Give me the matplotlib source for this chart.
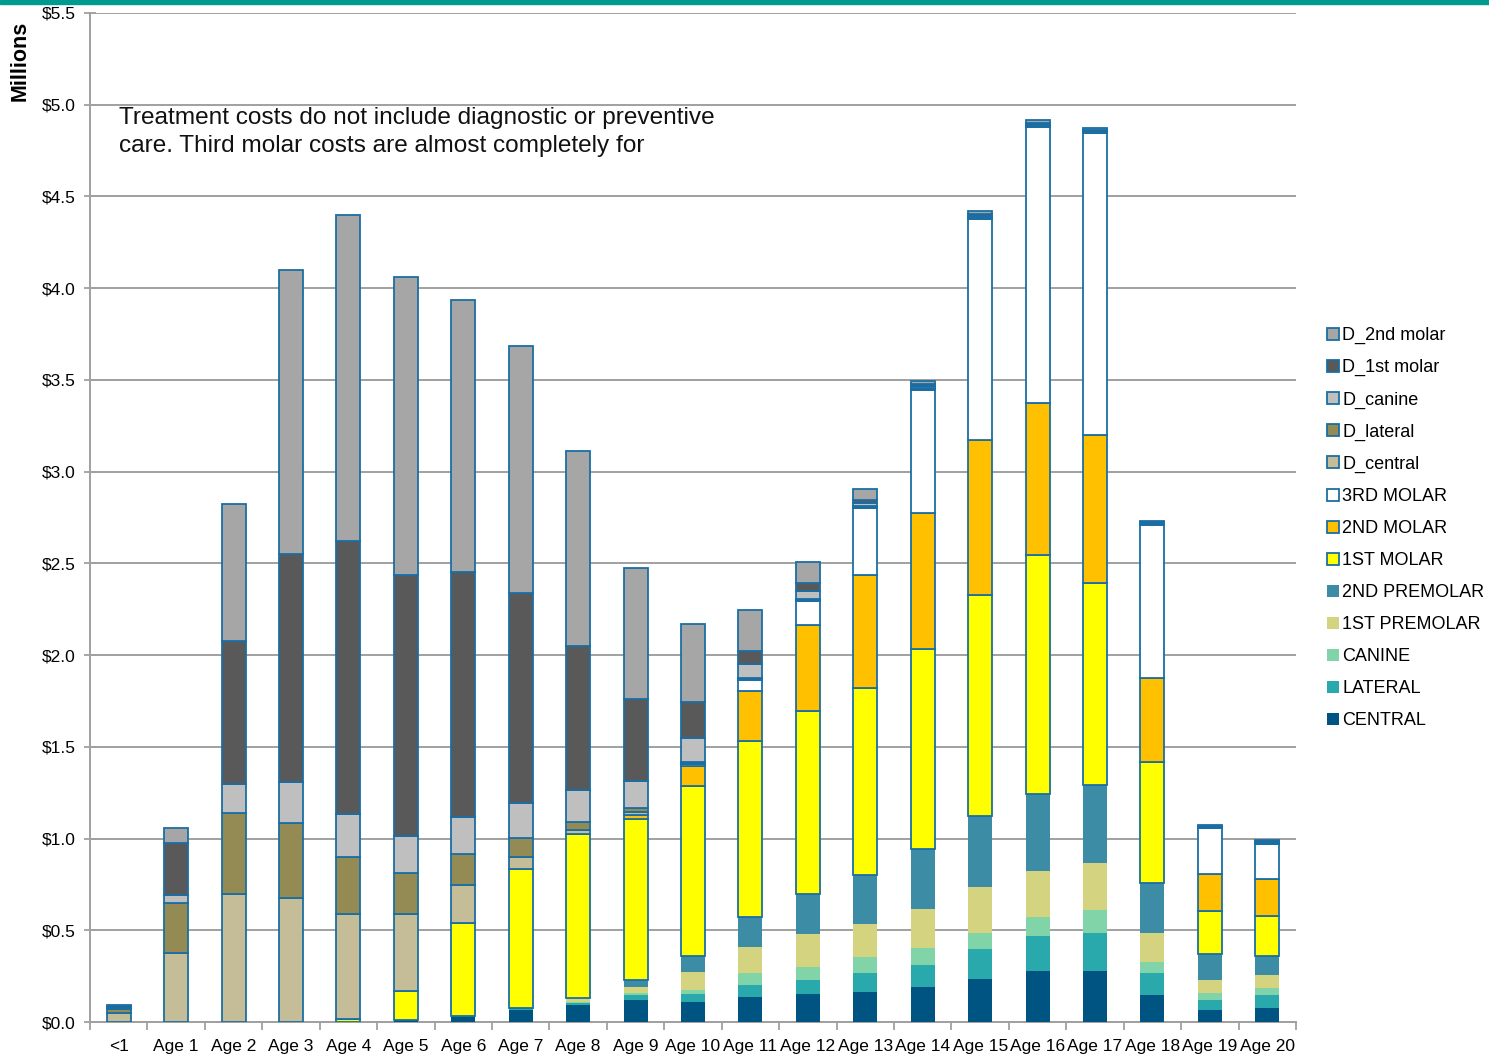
import numpy as np
import matplotlib
matplotlib.use('Agg')
import matplotlib.pyplot as plt
from matplotlib.ticker import FuncFormatter, FixedLocator
from matplotlib.patches import Rectangle, Patch

# Treatment costs by age, stacked by tooth type (millions of dollars)
ages = ['<1'] + ['Age %d' % i for i in range(1, 21)]

central     = [0, 0, 0, 0, 0, 0.01, 0.025, 0.065, 0.095, 0.12, 0.11, 0.138, 0.15, 0.165, 0.19, 0.234, 0.28, 0.28, 0.149, 0.065, 0.078]
lateral     = [0, 0, 0, 0, 0, 0, 0.005, 0.013, 0.01, 0.027, 0.04, 0.064, 0.078, 0.10, 0.123, 0.164, 0.189, 0.207, 0.116, 0.055, 0.069]
canine      = [0, 0, 0, 0, 0, 0, 0, 0, 0.005, 0.01, 0.027, 0.063, 0.071, 0.088, 0.09, 0.089, 0.105, 0.123, 0.062, 0.036, 0.037]
premolar_1  = [0, 0, 0, 0, 0, 0, 0, 0, 0.02, 0.036, 0.096, 0.145, 0.18, 0.181, 0.215, 0.247, 0.251, 0.258, 0.16, 0.073, 0.072]
premolar_2  = [0, 0, 0, 0, 0, 0, 0, 0, 0, 0.035, 0.085, 0.164, 0.218, 0.266, 0.327, 0.391, 0.42, 0.424, 0.273, 0.142, 0.104]
molar_1     = [0, 0, 0, 0, 0.015, 0.16, 0.51, 0.755, 0.894, 0.88, 0.93, 0.958, 1.0, 1.02, 1.09, 1.203, 1.30, 1.10, 0.656, 0.236, 0.219]
molar_2     = [0, 0, 0, 0, 0, 0, 0, 0, 0, 0.02, 0.105, 0.272, 0.465, 0.615, 0.74, 0.845, 0.828, 0.807, 0.461, 0.20, 0.199]
molar_3     = [0, 0, 0, 0, 0, 0, 0, 0, 0, 0, 0.013, 0.06, 0.135, 0.365, 0.67, 1.204, 1.505, 1.646, 0.832, 0.249, 0.191]
d_central   = [0.05, 0.374, 0.70, 0.676, 0.574, 0.42, 0.207, 0.069, 0.02, 0.015, 0.005, 0.005, 0.005, 0.005, 0.005, 0.005, 0.005, 0.004, 0.004, 0.003, 0.004]
d_lateral   = [0.02, 0.276, 0.44, 0.41, 0.31, 0.223, 0.169, 0.10, 0.045, 0.022, 0.005, 0.005, 0.005, 0.005, 0.005, 0.005, 0.005, 0.004, 0.004, 0.003, 0.004]
d_canine    = [0.005, 0.042, 0.16, 0.22, 0.235, 0.202, 0.2, 0.193, 0.173, 0.148, 0.13, 0.08, 0.045, 0.02, 0.01, 0.008, 0.007, 0.005, 0.004, 0.003, 0.004]
d_molar_1   = [0.01, 0.282, 0.775, 1.245, 1.488, 1.423, 1.336, 1.144, 0.785, 0.45, 0.199, 0.07, 0.04, 0.015, 0.01, 0.008, 0.007, 0.005, 0.004, 0.003, 0.004]
d_molar_2   = [0.005, 0.086, 0.75, 1.55, 1.777, 1.624, 1.483, 1.346, 1.063, 0.714, 0.425, 0.22, 0.115, 0.06, 0.02, 0.015, 0.015, 0.01, 0.008, 0.004, 0.005]

series = [
    ('CENTRAL', central, '#005482', False),
    ('LATERAL', lateral, '#29A9AB', False),
    ('CANINE', canine, '#80D4A8', False),
    ('1ST PREMOLAR', premolar_1, '#D3D380', False),
    ('2ND PREMOLAR', premolar_2, '#3D8CA5', False),
    ('1ST MOLAR', molar_1, '#FFFF00', True),
    ('2ND MOLAR', molar_2, '#FFC000', True),
    ('3RD MOLAR', molar_3, '#FFFFFF', True),
    ('D_central', d_central, '#C4BD97', True),
    ('D_lateral', d_lateral, '#948A54', True),
    ('D_canine', d_canine, '#BFBFBF', True),
    ('D_1st molar', d_molar_1, '#595959', True),
    ('D_2nd molar', d_molar_2, '#A6A6A6', True),
]

edge = '#1A6EA3'
grid_c = '#A0A0A0'

plt.rcParams.update({'font.family': ['Liberation Sans', 'DejaVu Sans'], 'font.size': 12.5})
fig = plt.figure(figsize=(14.89, 10.54), dpi=100)
ax = fig.add_axes([90/1489, 1-1022/1054, 1206/1489, 1009/1054])

x = np.arange(len(ages))
bottom = np.zeros(len(ages))
handles = []
for name, vals, color, edged in series:
    vals = np.array(vals)
    if edged:
        ax.bar(x, vals, 0.42, bottom=bottom, color=color, edgecolor=edge, linewidth=1.3, zorder=3)
        handles.append(Patch(facecolor=color, edgecolor=edge, linewidth=1.3, label=name))
    else:
        ax.bar(x, vals, 0.42, bottom=bottom, color=color, edgecolor='none', zorder=3)
        handles.append(Patch(facecolor=color, edgecolor='none', label=name))
    bottom += vals

# Axes layout
ax.set_xlim(-0.5, len(ages) - 0.5)
ax.set_ylim(0, 5.5)
ax.set_yticks(np.arange(0, 5.51, 0.5))
ax.yaxis.set_major_formatter(FuncFormatter(lambda y, _: '\\$%.1f' % y))
ax.yaxis.grid(True, color=grid_c, linewidth=1.4, zorder=0)
ax.set_axisbelow(True)
ax.set_xticks(x)
ax.set_xticklabels(ages)
ax.xaxis.set_minor_locator(FixedLocator(np.arange(-0.5, len(ages), 1.0)))
ax.tick_params(axis='x', which='major', length=0, pad=12, labelsize=12.5)
ax.tick_params(axis='x', which='minor', length=6, color=grid_c, width=1.3)
ax.tick_params(axis='y', direction='inout', length=9, color=grid_c, width=1.3, pad=6, labelsize=12.5)
for s in ['top', 'right']:
    ax.spines[s].set_visible(False)
for s in ['left', 'bottom']:
    ax.spines[s].set_color(grid_c)
    ax.spines[s].set_linewidth(1.4)

ax.text(29/1206, (1022-107)/1009, 'Treatment costs do not include diagnostic or preventive\ncare. Third molar costs are almost completely for',
        transform=ax.transAxes, ha='left', va='top', fontsize=17.6, linespacing=1.34, color='#111111')

fig.text(20/1489, 1-61/1054, 'Millions', rotation=90, fontweight='bold', fontsize=15.5, ha='center', va='center')

fig.legend(handles=handles[::-1], loc='center left', bbox_to_anchor=(1327/1489, 1-528/1054), frameon=False,
           borderpad=0, borderaxespad=0, handlelength=0.65, handleheight=0.65, handletextpad=0.2,
           labelspacing=0.83, fontsize=13)

# teal band across the top of the slide
fig.add_artist(Rectangle((0, 1-4/1054), 1, 4/1054, transform=fig.transFigure, color='#009A8E', zorder=10))

fig.savefig('out.png', dpi=100)
